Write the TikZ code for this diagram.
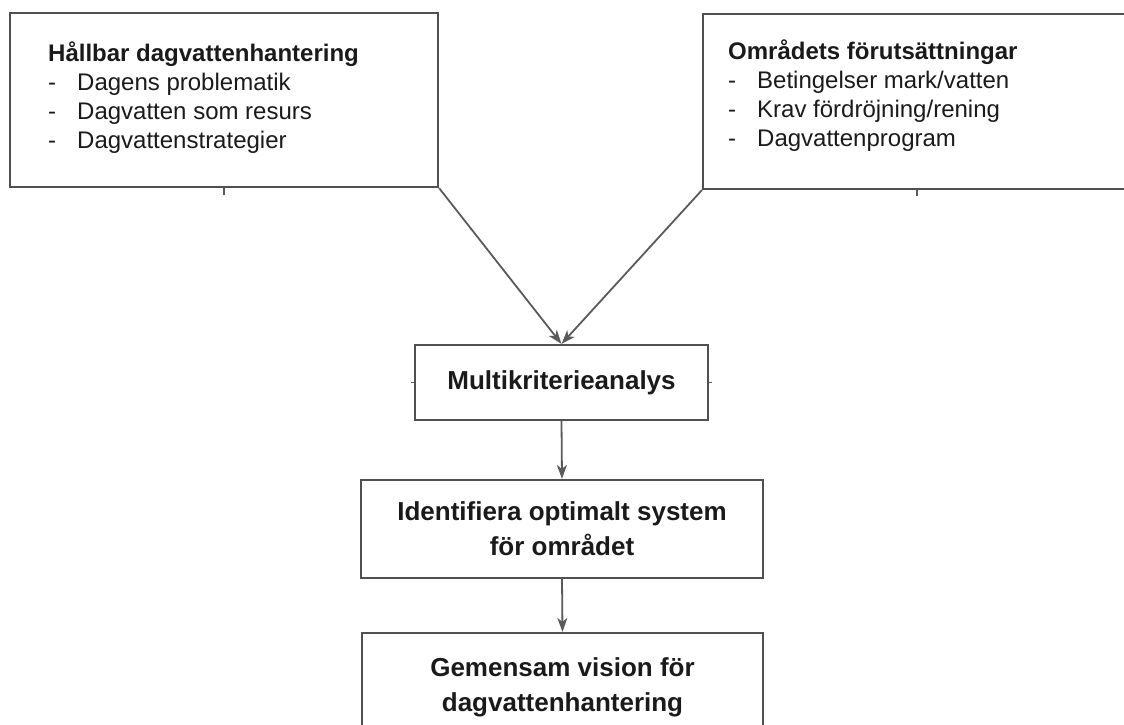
\documentclass[tikz,border=0pt]{standalone}
\usepackage{fontspec}
\setmainfont{Liberation Sans}
\usetikzlibrary{positioning,arrows.meta}
\definecolor{boxgray}{HTML}{505050}
\definecolor{linegray}{HTML}{5A5A5A}
\definecolor{txt}{HTML}{1A1A1A}

\begin{document}
\begin{tikzpicture}[x=1pt, y=-1pt,
    box/.style={draw=boxgray, line width=2.2pt, rectangle, inner sep=0pt},
    stage/.style={box, align=center, text=txt, font=\fontsize{26}{35}\selectfont\bfseries},
    list/.style={anchor=north west, inner sep=0pt, align=left, text=txt, font=\fontsize{24}{28.7}\selectfont},
    flow/.style={draw=linegray, line width=1.8pt, -{Stealth[length=14pt,width=10pt,inset=4pt]}},
    stub/.style={draw=linegray, line width=1.4pt}]
    \useasboundingbox (0,0) rectangle (1124,725);

    % Input boxes
    \node[box, minimum width=428pt, minimum height=174pt] (hall) at (224,100) {};
    \node[box, minimum width=428pt, minimum height=175pt] (omr) at (917,101.5) {};
    \node[list] (hallText) at (48,42) {\textbf{Hållbar dagvattenhantering}\\
        \makebox[29pt][l]{-}Dagens problematik\\
        \makebox[29pt][l]{-}Dagvatten som resurs\\
        \makebox[29pt][l]{-}Dagvattenstrategier};
    \node[list] (omrText) at (728,40) {\textbf{Områdets förutsättningar}\\
        \makebox[29pt][l]{-}Betingelser mark/vatten\\
        \makebox[29pt][l]{-}Krav fördröjning/rening\\
        \makebox[29pt][l]{-}Dagvattenprogram};

    % Process boxes
    \node[stage, minimum width=293pt, minimum height=75pt] (multi) at (561.5,382.5) {Multikriterieanalys};
    \node[stage, minimum width=402pt, minimum height=98pt] (ident) at (562,529) {Identifiera optimalt system\\för området};
    \node[stage, minimum width=401pt, minimum height=108pt] (vision) at (562.5,687) {Gemensam vision för\\dagvattenhantering};

    % Arrows
    \draw[flow] (hall.south east) -- (multi.north);
    \draw[flow] (omr.south west) -- (multi.north);
    \draw[flow] (multi.south) -- (ident.north);
    \draw[flow] (ident.south) -- (vision.north);

    % Stubs
    \draw[stub] (hall.south) -- ++(0,7);
    \draw[stub] (omr.south) -- ++(0,6);
    \draw[stub] (multi.west) -- ++(-3,0);
    \draw[stub] (multi.east) -- ++(3,0);
\end{tikzpicture}
\end{document}
